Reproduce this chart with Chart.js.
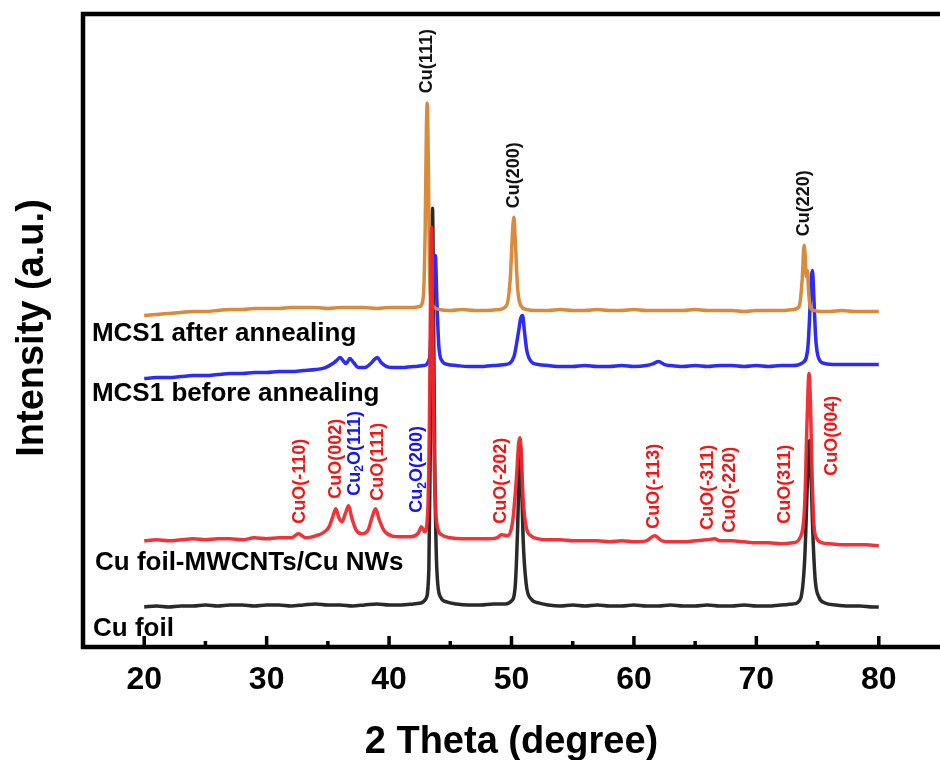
<!DOCTYPE html>
<html><head><meta charset="utf-8">
<script src="https://cdn.jsdelivr.net/npm/chart.js@4.4.1/dist/chart.umd.min.js"></script>
<style>html,body{margin:0;padding:0;background:#fff}canvas{display:block}</style>
</head><body>
<canvas id="c" width="940" height="760"></canvas>
<script>
// ---------- data (2θ in degrees, intensity in arbitrary units) ----------
const thetaCuFoil = [20,21,22,23,24,25,26,27,28,29,30,31,32,33,34,35,36,37,38,39,40,41,42,
  42.6,43.0,43.25,43.4,43.5,43.55,43.62,43.72,43.9,44.2,44.7,45.5,46.5,47.5,48.5,49.5,
  50.0,50.3,50.5,50.65,50.72,50.8,50.95,51.2,51.6,52.2,
  53,54,55,56,57,58,59,60,61,62,63,64,65,66,67,68,69,70,71,72,73,
  73.6,73.95,74.15,74.28,74.36,74.45,74.6,74.8,75.1,75.6,76.5,77.5,78.5,79.5,80];
const intCuFoil = [42,43,42,43,43,44,43,44,44,43,44,44,43,44,45,44,44,43,44,45,44,44,45,
  46,50,80,240,400,440,360,200,80,52,47,45,44,44,45,45,
  48,62,120,190,203,180,110,65,50,46,
  44,43,44,43,44,43,43,44,43,43,44,43,43,44,43,43,44,43,43,44,45,
  50,90,160,205,208,180,120,70,52,46,44,43,43,42,42];

const thetaCuNW = [20,21,22,23,24,25,26,27,28,29,30,31,32,
  32.6,33.2,34,34.6,35.1,35.4,35.65,35.9,36.15,36.45,36.7,36.95,37.3,37.8,38.3,38.6,38.9,39.2,39.6,40.2,41,41.8,42.4,42.65,42.9,43.15,43.3,43.42,43.48,43.56,43.7,43.9,44.3,45,46,47,48,48.8,49.2,49.7,50.1,50.4,50.58,50.68,50.78,50.95,51.2,51.6,52.2,
  53,54,55,56,57,58,59,60,61,61.7,62.3,63,64,65,66,
  66.6,67,68,69,70,71,72,73,
  73.6,73.95,74.15,74.3,74.42,74.55,74.7,74.95,75.4,76,77,78,79,80];
const intCuNW = [108,109,108,109,110,109,110,110,109,111,110,111,111,
  115,111,113,116,122,132,140,131,127,136,143,131,119,115,119,131,140,129,118,113,112,112,116,122,117,135,230,400,421,330,180,125,114,111,110,110,110,111,114,113,128,170,205,211,200,150,122,113,110,
  109,109,108,108,108,107,108,107,108,113,108,107,107,108,109,
  110,108,108,107,106,106,105,106,
  112,145,230,275,245,175,125,110,106,105,104,104,104,103];

const thetaBefore = [20,21,22,23,24,25,26,27,28,29,30,31,32,33,34,
  34.8,35.4,35.7,36.0,36.3,36.5,36.8,37.1,37.5,38.0,38.5,38.8,39.05,39.35,39.8,40.4,41,42,42.8,43.3,43.5,43.65,43.78,43.9,44.05,44.3,44.8,45.5,46.5,47.5,48.5,49.5,50.2,50.55,50.75,50.9,51.05,51.25,51.6,52.2,
  53,54,55,56,57,58,59,60,61,61.6,62,62.5,
  63,64,65,66,67,68,69,70,71,72,73,
  73.8,74.2,74.4,74.5,74.58,74.7,74.85,75.1,75.6,76.5,77.5,78.5,79.5,80];
const intBefore = [270,271,271,272,273,273,274,275,275,276,276,277,277,278,279,
  281,285,288,291,287,285,290,286,281,281,285,289,291,286,282,281,281,282,283,290,340,385,393,350,305,288,284,283,282,282,283,284,292,315,330,333,318,298,287,284,
  283,282,282,283,282,282,283,282,283,285,287,284,
  283,282,283,282,283,283,282,283,282,283,283,
  286,300,345,372,378,350,310,290,285,284,284,284,284,284];

const thetaAfter = [20,21,22,23,24,25,26,27,28,29,30,31,32,33,34,35,36,37,38,39,40,41,42,
  42.5,42.8,42.95,43.05,43.12,43.2,43.3,43.45,43.7,44.1,
  45,46,47,48,49,
  49.6,49.9,50.1,50.2,50.3,50.5,50.8,51.2,
  52,53,54,55,56,57,58,59,60,61,62,63,64,65,66,67,68,69,70,71,72,73,
  73.5,73.75,73.9,74.0,74.08,74.18,74.25,74.4,74.7,75.2,
  76,77,78,79,80];
const intAfter = [333,334,335,336,337,337,338,339,339,340,340,340,341,341,341,340,341,341,341,340,341,341,341,
  342,352,420,520,545,490,380,348,341,339,
  338,339,338,338,339,
  343,370,420,431,410,360,342,339,
  338,338,339,338,338,339,338,338,339,338,338,338,338,339,338,338,338,337,338,338,338,339,
  342,370,403,390,372,378,360,342,338,337,
  337,338,337,337,337];

const seriesNames = ['Cu foil', 'Cu foil-MWCNTs/Cu NWs', 'MCS1 before annealing', 'MCS1 after annealing'];
const seriesLabelTheta = [15.82, 15.98, 15.73, 15.73];
const seriesLabelAt = [13, 79, 248, 308];

const peakLabelText = ['Cu(111)','Cu(200)','Cu(220)','CuO(-110)','CuO(002)','Cu_2O(111)','CuO(111)','Cu_2O(200)',
  'CuO(-202)','CuO(-113)','CuO(-311)','CuO(-220)','CuO(311)','CuO(004)'];
const peakLabelKind = ['Cu','Cu','Cu','CuO','CuO','Cu2O','CuO','Cu2O','CuO','CuO','CuO','CuO','CuO','CuO'];
const peakLabelTheta = [43.06,50.24,73.89,32.70,35.64,37.19,39.06,42.32,49.15,61.66,66.06,67.85,72.34,76.17];
const peakLabelAt = [555,440,412,125,150,153,148,136,125,120,119,116,125,173];

const majorTicks = [20,30,40,50,60,70,80];
const minorTicks = [25,35,45,55,65,75];

// ---------- styling ----------
const FONT = '"Liberation Sans", Arial, Helvetica, sans-serif';
const kindColor = {Cu:'#111111', CuO:'#F01616', Cu2O:'#1616E8'};
const pts = (xs, ys) => xs.map((v, i) => ({x: v, y: ys[i]}));

const deco = {
  id: 'deco',
  afterDatasetsDraw(chart) {
    const {ctx, scales: {x, y}} = chart;
    ctx.save();
    ctx.font = 'bold 26px ' + FONT;
    ctx.fillStyle = '#000';
    ctx.textAlign = 'left';
    ctx.textBaseline = 'alphabetic';
    seriesNames.forEach((t, i) => {
      ctx.fillText(t, x.getPixelForValue(seriesLabelTheta[i]), y.getPixelForValue(seriesLabelAt[i]));
    });
    peakLabelText.forEach((t, i) => {
      const px = x.getPixelForValue(peakLabelTheta[i]);
      const py = y.getPixelForValue(peakLabelAt[i]);
      ctx.save();
      ctx.translate(px, py);
      ctx.rotate(-Math.PI / 2);
      ctx.fillStyle = kindColor[peakLabelKind[i]];
      ctx.textAlign = 'left';
      ctx.textBaseline = 'middle';
      let cx = 0;
      t.split(/(_\d)/).forEach(seg => {
        if (!seg) return;
        if (seg[0] === '_') {
          ctx.font = 'bold 12px ' + FONT;
          ctx.fillText(seg.slice(1), cx, 5);
          cx += ctx.measureText(seg.slice(1)).width;
        } else {
          ctx.font = 'bold 18px ' + FONT;
          ctx.fillText(seg, cx, 0);
          cx += ctx.measureText(seg).width;
        }
      });
      ctx.restore();
    });
    ctx.restore();
  },
  afterDraw(chart) {
    const {ctx, chartArea: a, scales: {x}} = chart;
    ctx.save();
    ctx.strokeStyle = '#000';
    ctx.lineWidth = 4.5;
    ctx.lineJoin = 'miter';
    ctx.beginPath();
    ctx.moveTo(a.right + 5, a.top);
    ctx.lineTo(a.left, a.top);
    ctx.lineTo(a.left, a.bottom);
    ctx.lineTo(a.right + 5, a.bottom);
    ctx.stroke();
    ctx.lineWidth = 3.5;
    ctx.beginPath();
    majorTicks.forEach(v => { const p = x.getPixelForValue(v); ctx.moveTo(p, a.bottom); ctx.lineTo(p, a.bottom - 11); });
    minorTicks.forEach(v => { const p = x.getPixelForValue(v); ctx.moveTo(p, a.bottom); ctx.lineTo(p, a.bottom - 6); });
    ctx.stroke();
    ctx.translate(33, 328);
    ctx.rotate(-Math.PI / 2);
    ctx.font = 'bold 38px ' + FONT;
    ctx.fillStyle = '#000';
    ctx.textAlign = 'center';
    ctx.textBaseline = 'middle';
    ctx.fillText('Intensity (a.u.)', 0, 0);
    ctx.restore();
  }
};

const common = {pointRadius: 0, borderWidth: 3.5, fill: false, cubicInterpolationMode: 'monotone'};

new Chart(document.getElementById('c'), {
  type: 'line',
  data: {
    datasets: [
      Object.assign({label: seriesNames[1], data: pts(thetaCuNW, intCuNW), borderColor: 'rgba(238,40,45,0.95)', order: 1}, common),
      Object.assign({label: seriesNames[3], data: pts(thetaAfter, intAfter), borderColor: '#DA8A3C', order: 2}, common),
      Object.assign({label: seriesNames[2], data: pts(thetaBefore, intBefore), borderColor: '#2C2CF4', order: 3}, common),
      Object.assign({label: seriesNames[0], data: pts(thetaCuFoil, intCuFoil), borderColor: '#2A2A2A', order: 4}, common)
    ]
  },
  options: {
    responsive: false,
    animation: false,
    devicePixelRatio: 1,
    layout: {padding: {left: 83, top: 14, right: 0, bottom: 0}},
    plugins: {legend: {display: false}, tooltip: {enabled: false}},
    scales: {
      x: {
        type: 'linear', min: 15, max: 85,
        afterBuildTicks: axis => { axis.ticks = majorTicks.map(v => ({value: v})); },
        grid: {display: false, drawTicks: false},
        border: {display: false},
        ticks: {color: '#000', padding: 14, font: {family: FONT, size: 32, weight: 'bold'}},
        title: {display: true, text: '2 Theta (degree)', color: '#000', padding: {top: 6, bottom: -5},
          font: {family: FONT, size: 38, weight: 'bold'}}
      },
      y: {type: 'linear', min: 2, max: 634, display: false}
    }
  },
  plugins: [deco]
});
</script>
</body></html>
